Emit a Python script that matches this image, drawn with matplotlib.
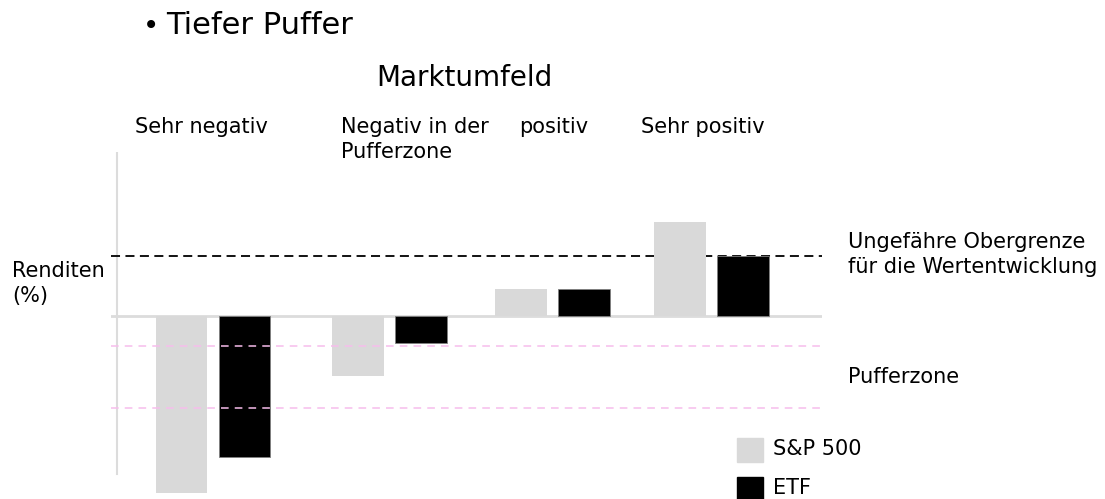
import matplotlib.pyplot as plt
import numpy as np

# Marktszenarien und Renditen (%), aus dem Bild geschaetzt
categories = ['Sehr negativ', 'Negativ in der\nPufferzone', 'positiv', 'Sehr positiv']
sp500 = [-29.5, -10.0, 4.5, 15.7]
etf = [-23.5, -4.5, 4.5, 10.0]
cap_level = 10.0
buffer_levels = [-5.0, -15.3]

plt.rcParams['font.family'] = ['DejaVu Sans']

fig = plt.figure(figsize=(11.05, 4.99), dpi=100)
W, H = 1105, 499

# axes: px 111..822 horizontally, px 152..499 vertically
ax = fig.add_axes([111 / W, 0, (822 - 111) / W, (499 - 152) / H])
ax.set_xlim(-0.613, 3.66)
ax.set_ylim(-30.5, 27.3)
ax.axis('off')

x = np.array([0.0, 1.06, 2.04, 2.995])
width = 0.31
off = 0.19

ax.bar(x - off, sp500, width, color='#d9d9d9', zorder=3)
ax.bar(x + off, etf, width, color='black', edgecolor='#808080', linewidth=0.6, zorder=3)

ax.axhline(0, color='#dcdcdc', lw=2, zorder=2)
ax.axvline(-0.577, ymin=(499 - 474) / 347, ymax=1, color='#dcdcdc', lw=1.5, zorder=2)
ax.axhline(cap_level, color='black', lw=1.3, dashes=(5, 3), zorder=2)
for lvl in buffer_levels:
    ax.axhline(lvl, color='#f7bdec', lw=1.1, dashes=(5, 4), zorder=4)

# texts
fs = 15
fig.text(143 / W, 1 - 26 / H, '\u2022', fontsize=20, va='center', ha='left')
fig.text(166 / W, 1 - 26 / H, 'Tiefer Puffer', fontsize=22, va='center', ha='left')
fig.text(464 / W, 1 - 78 / H, 'Marktumfeld', fontsize=20, va='center', ha='center')

label_x = [135, 341, 519, 641]
for lx, cat in zip(label_x, categories):
    fig.text(lx / W, 1 - 117 / H, cat, fontsize=fs, va='top', ha='left', linespacing=1.3)

fig.text(12 / W, 1 - 261 / H, 'Renditen\n(%)', fontsize=fs, va='top', ha='left', linespacing=1.3)
fig.text(848 / W, 1 - 232 / H, 'Ungef\u00e4hre Obergrenze\nf\u00fcr die Wertentwicklung',
         fontsize=fs, va='top', ha='left', linespacing=1.3)
fig.text(848 / W, 1 - 377 / H, 'Pufferzone', fontsize=fs, va='center', ha='left')

# legend
fig.patches.append(plt.Rectangle((737 / W, 1 - 462 / H), 26 / W, 24 / H,
                                 transform=fig.transFigure, color='#d9d9d9'))
fig.patches.append(plt.Rectangle((737 / W, 1 - 501 / H), 26 / W, 24 / H,
                                 transform=fig.transFigure, color='black'))
fig.text(773 / W, 1 - 449 / H, 'S&P 500', fontsize=fs, va='center', ha='left')
fig.text(773 / W, 1 - 488 / H, 'ETF', fontsize=fs, va='center', ha='left')

fig.savefig('out.png', dpi=100)
